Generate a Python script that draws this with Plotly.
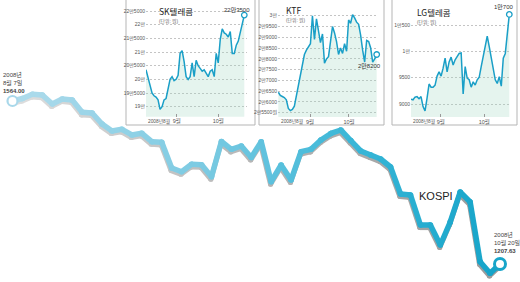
import plotly.graph_objects as go

W, H = 520, 282

# ---------------- data ----------------
kospi = [1564.00, 1569.5, 1578.6, 1577.0, 1557.4, 1568.4, 1566.2, 1539.3, 1537.8, 1513.7,
         1498.4, 1502.1, 1489.7, 1493.4, 1475.0, 1473.7, 1417.5, 1409.4, 1425.6, 1424.7,
         1398.5, 1475.5, 1458.4, 1465.6, 1440.5, 1475.0, 1387.6, 1424.0, 1391.3, 1453.2,
         1458.4, 1478.7, 1493.0, 1500.6, 1477.6, 1454.7, 1445.9, 1437.2, 1419.7, 1360.7,
         1358.5, 1292.9, 1292.9, 1249.2, 1299.5, 1365.0, 1343.2, 1212.7, 1187.3, 1207.63]
kospi_start_label = ["2008년", "8월 7일", "1564.00"]
kospi_end_label = ["2008년", "10월 20일", "1207.63"]
kospi_name = "KOSPI"

sk = [203500, 200500, 198000, 195000, 194000, 193500, 192500, 189000, 190000, 192500,
      193000, 196000, 200000, 201000, 199500, 200000, 201500, 209500, 210500, 206500,
      201000, 200000, 201000, 206000, 201000, 207000, 205000, 204000, 203000, 203500,
      202000, 201000, 203000, 203500, 201000, 209500, 206000, 214500, 218500, 217000,
      216500, 215500, 217500, 209500, 209500, 212500, 214000, 217000, 220000, 223500]
ktf = [26450, 26300, 26250, 26200, 26100, 25700, 25600, 25650, 25800, 26250,
       26700, 27150, 27650, 28200, 28400, 28550, 28700, 30000, 28900, 29850,
       29200, 28750, 29150, 27800, 28000, 28100, 28800, 29500, 29200, 28800,
       28200, 28500, 28250, 28700, 28350, 29800, 29650, 30050, 29900, 29700,
       29600, 29100, 28400, 27850, 28850, 28800, 28500, 27850, 28000, 28200]
lg = [9090, 9080, 9130, 9140, 9100, 9140, 8950, 8870, 9110, 9380,
      9320, 9320, 9360, 9530, 9610, 9530, 9680, 9870, 9610, 9800,
      9890, 9740, 9840, 9910, 9960, 9970, 9190, 9710, 9490, 9460,
      9320, 9420, 9360, 9460, 9510, 9710, 9900, 10030, 10290, 10090,
      9870, 9710, 9460, 9390, 9520, 9340, 9870, 9960, 10280, 10700]

sk_ticks = [190000, 195000, 200000, 205000, 210000, 215000, 220000, 225000]
sk_ticktext = ["19만", "19만5000", "20만", "20만5000", "21만", "21만5000", "22만", "22만5000"]
ktf_ticks = [25500, 26000, 26500, 27000, 27500, 28000, 28500, 29000, 29500, 30000]
ktf_ticktext = ["2만5500원", "2만6000", "2만6500", "2만7000", "2만7500",
                "2만8000", "2만8500", "2만9000", "2만9500", "3만"]
lg_ticks = [9000, 9500, 10000, 10500]
lg_ticktext = ["9000", "9500", "1만", "1만500"]
month_labels = ["2008년8월", "9월", "10월"]
sk_last, ktf_last, lg_last = "22만3500", "2만8200", "1만700"
titles = ["SK텔레콤", "KTF", "LG텔레콤"]
unit_label = "(단위: 원)"

FONT = "Liberation Sans, Arial, Noto Sans CJK KR"


def lin(p, p0, p1, v0, v1):
    return v0 + (p - p0) * (v1 - v0) / (p1 - p0)


def px2x(px):
    return px / W


def px2y(py):
    return 1 - py / H


fig = go.Figure()

# ---------------- main KOSPI line ----------------
idx = list(range(len(kospi)))
mx = (12.5, 500.0)
my = (101.0, 264.0)
xr = [lin(0, mx[0], mx[1], 0, idx[-1]), lin(W, mx[0], mx[1], 0, idx[-1])]
yr = [lin(H, my[0], my[1], kospi[0], kospi[-1]), lin(0, my[0], my[1], kospi[0], kospi[-1])]
px_per_x = (mx[1] - mx[0]) / idx[-1]
px_per_y = (my[1] - my[0]) / (kospi[0] - kospi[-1])
sdx = -0.6 / px_per_x
sdy = -2.6 / px_per_y


def interp_color(t, anchors):
    for k in range(len(anchors) - 1):
        t0, c0 = anchors[k]
        t1, c1 = anchors[k + 1]
        if t <= t1:
            f = (t - t0) / (t1 - t0) if t1 > t0 else 0
            c = [round(c0[j] + (c1[j] - c0[j]) * f) for j in range(3)]
            return "rgb(%d,%d,%d)" % tuple(c)
    return "rgb(%d,%d,%d)" % anchors[-1][1]


blue_anchors = [(0.0, (176, 220, 236)), (0.4, (122, 202, 226)),
                (0.7, (58, 183, 215)), (1.0, (22, 164, 201))]
gray_anchors = [(0.0, (222, 222, 222)), (0.5, (182, 182, 182)), (1.0, (155, 155, 155))]
LW = 5.5
nseg = len(kospi) - 1

for layer, anchors, ox, oy, w in [("shadow", gray_anchors, sdx, sdy, LW - 0.5),
                                  ("line", blue_anchors, 0, 0, LW)]:
    for i in range(nseg):
        col = interp_color(i / (nseg - 1), anchors)
        fig.add_trace(go.Scatter(
            x=[idx[i] + ox, idx[i + 1] + ox], y=[kospi[i] + oy, kospi[i + 1] + oy],
            mode="lines+markers", line=dict(color=col, width=w),
            marker=dict(size=w, color=col, line=dict(width=0)),
            hoverinfo="skip", showlegend=False, cliponaxis=False))

fig.add_trace(go.Scatter(x=[idx[0]], y=[kospi[0]], mode="markers",
                         marker=dict(size=10, color="white", line=dict(color="#a9d8ea", width=2.2)),
                         showlegend=False, cliponaxis=False))
fig.add_trace(go.Scatter(x=[idx[-1]], y=[kospi[-1]], mode="markers",
                         marker=dict(size=11, color="white", line=dict(color="#18a5c9", width=3)),
                         showlegend=False, cliponaxis=False))

layout = dict(
    width=W, height=H, margin=dict(l=0, r=0, t=0, b=0),
    paper_bgcolor="white", plot_bgcolor="rgba(0,0,0,0)",
    showlegend=False, font=dict(family=FONT, color="#333"),
    xaxis=dict(domain=[0, 1], range=xr, visible=False, fixedrange=True),
    yaxis=dict(domain=[0, 1], range=yr, visible=False, fixedrange=True),
)

annotations = []
shapes = []

annotations.append(dict(
    xref="paper", yref="paper", x=px2x(1), y=px2y(82.5), xanchor="left", yanchor="middle",
    text="%s<br>%s<br><b>%s</b>" % tuple(kospi_start_label), showarrow=False, align="left",
    font=dict(size=6, color="#444")))
annotations.append(dict(
    xref="paper", yref="paper", x=px2x(492), y=px2y(242), xanchor="left", yanchor="middle",
    text="%s<br>%s<br><b>%s</b>" % tuple(kospi_end_label), showarrow=False, align="left",
    font=dict(size=6, color="#444")))
annotations.append(dict(
    xref="paper", yref="paper", x=px2x(417), y=px2y(196), xanchor="left", yanchor="middle",
    text=kospi_name, showarrow=False, font=dict(size=11, color="#222", family=FONT)))

# ---------------- insets ----------------
insets = [
    dict(data=sk, ticks=sk_ticks, ticktext=sk_ticktext, last=sk_last, title=titles[0],
         box=(126, 255), xcal=(146.0, 244.3), xdom=(146, 247),
         ycal=(11.0, sk_ticks[-1], 106.7, sk_ticks[0]), ydom=(5, 116.7),
         months=(0.1, 15.3, 36.05), title_pos=(157, 11.5, 21), last_pos=(237, 9.5)),
    dict(data=ktf, ticks=ktf_ticks, ticktext=ktf_ticktext, last=ktf_last, title=titles[1],
         box=(259, 384), xcal=(278.3, 376.7), xdom=(278, 378),
         ycal=(15.7, ktf_ticks[-1], 112.7, ktf_ticks[0]), ydom=(7, 117),
         months=(0.1, 15.8, 35.2), title_pos=(284, 10, 20.5), last_pos=(369, 65.5)),
    dict(data=lg, ticks=lg_ticks, ticktext=lg_ticktext, last=lg_last, title=titles[2],
         box=(392, 517), xcal=(411.0, 509.3), xdom=(411, 510),
         ycal=(25.0, lg_ticks[-1], 104.0, lg_ticks[0]), ydom=(5, 117),
         months=(0.1, 14.8, 36.5), title_pos=(415, 12, 22), last_pos=(504, 6)),
]

LINE_C = "#1a9fc7"
for n, ins in enumerate(insets, start=2):
    d = ins["data"]
    ix = list(range(len(d)))
    x0, x1 = ins["xcal"]
    xrng = [lin(ins["xdom"][0], x0, x1, 0, ix[-1]), lin(ins["xdom"][1], x0, x1, 0, ix[-1])]
    p0, v0, p1, v1 = ins["ycal"]
    yrng = [lin(ins["ydom"][1], p0, p1, v0, v1), lin(ins["ydom"][0], p0, p1, v0, v1)]
    xa, ya = "x%d" % n, "y%d" % n
    shapes.append(dict(type="rect", xref="paper", yref="paper",
                       x0=px2x(ins["box"][0]), x1=px2x(ins["box"][1]),
                       y0=px2y(125), y1=px2y(-2), line=dict(color="#b5b5b5", width=1),
                       fillcolor="white", layer="below"))
    layout["xaxis%d" % n] = dict(
        domain=[px2x(ins["xdom"][0]), px2x(ins["xdom"][1])], range=xrng, anchor=ya,
        showgrid=False, zeroline=False, showline=False, fixedrange=True,
        tickvals=list(ins["months"][1:]), ticktext=month_labels[1:],
        ticks="inside", ticklen=3, tickcolor="#999", tickwidth=0.8,
        tickfont=dict(size=5.5, color="#555"))
    layout["yaxis%d" % n] = dict(
        domain=[px2y(ins["ydom"][1]), px2y(ins["ydom"][0])], range=yrng, anchor=xa,
        tickvals=ins["ticks"], ticktext=ins["ticktext"], showgrid=True,
        gridcolor="#c4c4c4", gridwidth=0.6, griddash="2px,2px", zeroline=False,
        showline=False, ticks="", tickfont=dict(size=5, color="#555"), fixedrange=True)
    fig.add_trace(go.Scatter(x=ix, y=d, mode="lines", line=dict(color=LINE_C, width=1.5),
                             fill="tozeroy", fillcolor="rgba(160,215,195,0.28)",
                             xaxis=xa, yaxis=ya, hoverinfo="skip"))
    fig.add_trace(go.Scatter(x=[ix[-1]], y=[d[-1]], mode="markers",
                             marker=dict(size=5.5, color="white", line=dict(color=LINE_C, width=1.3)),
                             xaxis=xa, yaxis=ya, cliponaxis=False, hoverinfo="skip"))
    # first month label (left aligned at series start)
    annotations.append(dict(xref=xa, yref="paper", x=ins["months"][0], y=px2y(121.5),
                            xanchor="left", yanchor="middle", text=month_labels[0],
                            showarrow=False, font=dict(size=4.8, color="#555")))
    tx, ty, uy = ins["title_pos"]
    annotations.append(dict(xref="paper", yref="paper", x=px2x(tx), y=px2y(ty),
                            xanchor="left", yanchor="middle", text=ins["title"], showarrow=False,
                            font=dict(size=8.5, color="#222", family="Noto Sans CJK KR")))
    annotations.append(dict(xref="paper", yref="paper", x=px2x(tx), y=px2y(uy),
                            xanchor="left", yanchor="middle", text=unit_label, showarrow=False,
                            font=dict(size=4.8, color="#666")))
    lx, ly = ins["last_pos"]
    annotations.append(dict(xref="paper", yref="paper", x=px2x(lx), y=px2y(ly),
                            xanchor="center", yanchor="middle", text=ins["last"], showarrow=False,
                            font=dict(size=6, color="#333")))

layout["annotations"] = annotations
layout["shapes"] = shapes
fig.update_layout(**layout)
fig.write_html("out.html")
